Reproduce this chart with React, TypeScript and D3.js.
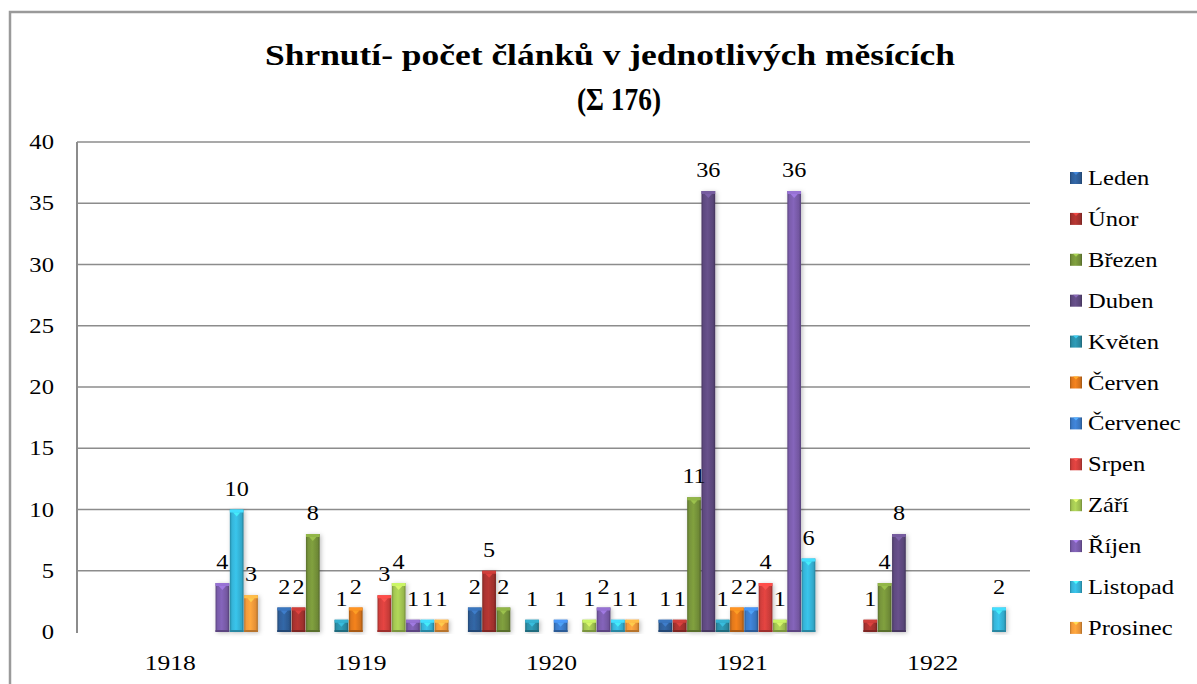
import React from "react";
import * as d3 from "d3";

const years = ["1918", "1919", "1920", "1921", "1922"];
const months = [
  "Leden", "Únor", "Březen", "Duben", "Květen", "Červen",
  "Červenec", "Srpen", "Září", "Říjen", "Listopad", "Prosinec",
];
// values per month, one per year (1918..1922)
const leden = [0, 2, 2, 1, 0];
const unor = [0, 2, 5, 1, 1];
const brezen = [0, 8, 2, 11, 4];
const duben = [0, 0, 0, 36, 8];
const kveten = [0, 1, 1, 1, 0];
const cerven = [0, 2, 0, 2, 0];
const cervenec = [0, 0, 1, 2, 0];
const srpen = [0, 3, 0, 4, 0];
const zari = [0, 4, 1, 1, 0];
const rijen = [4, 1, 2, 36, 0];
const listopad = [10, 1, 1, 6, 2];
const prosinec = [3, 1, 1, 0, 0];
const seriesValues = [leden, unor, brezen, duben, kveten, cerven, cervenec, srpen, zari, rijen, listopad, prosinec];
const yTicks = [0, 5, 10, 15, 20, 25, 30, 35, 40];

const colors = [
  "#2f5f9a", "#a8322f", "#76933a", "#5f4a80", "#2b8fa8", "#e0781c",
  "#3b7bc9", "#d23f3c", "#a3c652", "#7a5cab", "#35b4d8", "#f49a3a",
];

const FONT = "Liberation Serif, serif";

const left = 77, right = 1030, top = 142, bottom = 632;
const x0 = d3.scaleBand().domain(years).range([left, right]).padding(0);
const x1 = d3.scaleBand().domain(months).range([0, x0.bandwidth()]).paddingInner(0).paddingOuter(0.66);
const y = d3.scaleLinear().domain([0, 40]).range([bottom, top]);
const w = x1.bandwidth();

const hex = (c: string, k: number) => {
  const col = d3.color(c)!;
  return (k >= 0 ? col.brighter(k) : col.darker(-k)).formatHex();
};

const App = () => {
  const bars = seriesValues.flatMap((vals, si) =>
    vals.map((v, yi) => ({ si, year: years[yi], v })).filter((d) => d.v > 0)
  );

  return (
    <div style={{ position: "absolute", left: 0, top: 0 }}>
      <svg width={1197} height={684} style={{ display: "block", background: "#fff", fontFamily: FONT }}>
        <defs>
          <filter id="shadow" x="-60%" y="-10%" width="220%" height="120%">
            <feDropShadow dx={1.5} dy={1} stdDeviation={2.2} floodColor="#000" floodOpacity={0.25} />
          </filter>
          {colors.map((c, i) => (
            <linearGradient key={i} id={`grad${i}`} x1={0} x2={1} y1={0} y2={0}>
              <stop offset={0} stopColor={hex(c, -0.8)} />
              <stop offset={0.15} stopColor={hex(c, 0)} />
              <stop offset={0.45} stopColor={hex(c, 0.25)} />
              <stop offset={0.85} stopColor={hex(c, -0.2)} />
              <stop offset={1} stopColor={hex(c, -1)} />
            </linearGradient>
          ))}
        </defs>

        {/* outer chart border */}
        <path d="M10,684 L10,12 L1197,12" fill="none" stroke="#9a9a9a" strokeWidth={2.5} />

        {/* title */}
        <text x={610} y={65} textAnchor="middle" fontWeight="bold" fontSize={30}
          textLength={690} lengthAdjust="spacingAndGlyphs">
          Shrnutí- počet článků v jednotlivých měsících
        </text>
        <text x={619} y={110} textAnchor="middle" fontWeight="bold" fontSize={31}
          textLength={84} lengthAdjust="spacingAndGlyphs">
          (Σ 176)
        </text>

        {/* gridlines */}
        {yTicks.filter((d) => d > 0).map((d) => (
          <line key={d} x1={left} x2={right} y1={y(d)} y2={y(d)} stroke="#8c8c8c" strokeWidth={1.5} />
        ))}
        <line x1={left} x2={left} y1={top} y2={bottom + 1} stroke="#8c8c8c" strokeWidth={2} />

        {/* y tick labels */}
        {yTicks.map((d) => (
          <text key={d} textAnchor="end" fontSize={22}
            transform={`translate(54,${y(d) + 7}) scale(1.12,1)`}>{d}</text>
        ))}

        {/* x category labels */}
        {years.map((d) => (
          <text key={d} textAnchor="middle" fontSize={21}
            transform={`translate(${x0(d)! + x0.bandwidth() / 2 - 2},670) scale(1.22,1)`}>{d}</text>
        ))}

        {/* bars */}
        {bars.map((d, i) => {
          const bx = x0(d.year)! + x1(months[d.si])!;
          const by = y(d.v);
          const c = colors[d.si];
          return (
            <g key={i} transform={`translate(${bx},0)`}>
              <rect x={0.3} width={w - 0.6} y={by} height={bottom - by} fill={`url(#grad${d.si})`} filter="url(#shadow)" />
              <rect x={0.3} width={w - 0.6} y={by} height={3} fill={hex(c, 0.6)} />
              <path d={`M${w * 0.25},${by + 3} L${w * 0.75},${by + 3} L${w / 2},${by + 7} Z`} fill={hex(c, 0.9)} opacity={0.8} />
              <rect x={0.3} width={w - 0.6} y={bottom - 2} height={2} fill={hex(c, -0.8)} />
            </g>
          );
        })}

        {/* data labels */}
        {bars.map((d, i) => (
          <text key={i} textAnchor="middle" fontSize={22}
            transform={`translate(${x0(d.year)! + x1(months[d.si])! + w / 2},${y(d.v) - 14}) scale(1.1,1)`}>{d.v}</text>
        ))}

        {/* legend */}
        {months.map((m, i) => (
          <g key={m} transform={`translate(1070,${178 + i * 40.9})`}>
            <rect x={0} y={-6} width={12} height={12} fill={`url(#grad${i})`} />
            <path d="M3,-6 L9,-6 L6,-3 Z" fill={hex(colors[i], 1)} />
            <text transform="translate(18,7) scale(1.17,1)" fontSize={21}>{m}</text>
          </g>
        ))}
      </svg>
    </div>
  );
};

export default App;
